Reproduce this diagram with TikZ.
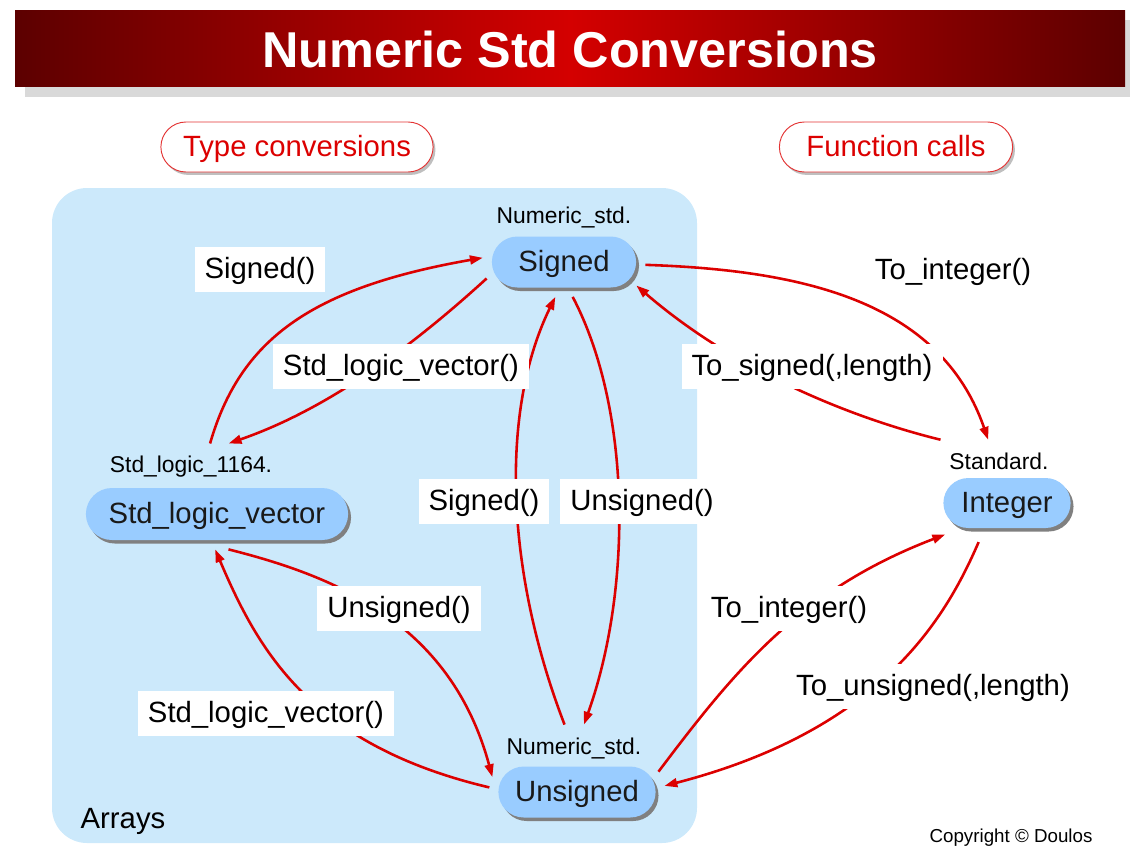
\documentclass[tikz,border=0pt]{standalone}
\usepackage{fontspec}
\setmainfont{Liberation Sans}
\usepackage{tikz}
\usetikzlibrary{shapes.misc, arrows.meta, shadows}
\definecolor{convred}{RGB}{220,0,0}
\definecolor{pillblue}{RGB}{153,204,255}
\definecolor{areablue}{RGB}{204,233,251}
\definecolor{titledark}{RGB}{92,0,0}
\definecolor{titlered}{RGB}{212,0,0}

\begin{document}
\begin{tikzpicture}[x=0.03cm, y=-0.03cm,
    pill/.style={rounded rectangle, fill=pillblue, minimum height=1.53cm, outer sep=8pt,
      font=\fontsize{25}{30}\selectfont, text=black!90, text height=18pt, text depth=2pt,
      drop shadow={shadow xshift=2.5pt, shadow yshift=-3pt, fill=black!50, opacity=1}},
    lib/.style={inner sep=1pt, outer sep=10pt, font=\fontsize{19.5}{23}\selectfont},
    lbl/.style={fill=white, inner xsep=0.3cm, inner ysep=0pt, minimum height=1.35cm,
      text height=18pt, text depth=2pt, font=\fontsize{25}{30}\selectfont},
    group/.style={rounded rectangle, draw=convred!80, line width=0.8pt, fill=white,
      text=convred, minimum height=1.5cm, text height=18pt, text depth=2pt,
      font=\fontsize{25}{30}\selectfont,
      drop shadow={shadow xshift=2pt, shadow yshift=-2.5pt, fill=black!25, opacity=1}},
    conv/.style={draw=convred, line width=2.2pt, -{Triangle[length=11pt, width=7.5pt]}}]
  \useasboundingbox (0,0) rectangle (1130,857);
  \fill[black!15] (25,20) rectangle (1130,97);
  \shade[left color=titledark, right color=titledark, middle color=titlered] (15,10) rectangle (1125,86);
  \node[text=white, font=\bfseries\fontsize{43}{50}\selectfont] (title) at (570,49) {Numeric Std Conversions};

  \node[group, minimum width=8.4cm] (typeconv) at (297,147) {Type conversions};
  \node[group, minimum width=7.23cm] (funcalls) at (896,147) {Function calls};

  \fill[areablue, rounded corners=1.05cm] (52,188) rectangle (697,843);
  \node[font=\fontsize{25}{30}\selectfont] (arrays) at (123,821) {Arrays};

  \node[pill, minimum width=4.56cm] (signed) at (564,262) {Signed};
  \node[lib] (signedlib) at (564,217) {Numeric\_std.};
  \node[pill, minimum width=8.1cm, minimum height=1.56cm] (slv) at (217,514) {Std\_logic\_vector};
  \node[lib] (slvlib) at (191,467) {Std\_logic\_1164.};
  \node[pill, minimum width=4.05cm, minimum height=1.5cm, outer sep=12pt] (int) at (1007,503) {Integer};
  \node[lib] (intlib) at (999,461) {Standard.};
  \node[pill, minimum width=4.95cm] (uns) at (577,792) {Unsigned};
  \node[lib] (unslib) at (574,748) {Numeric\_std.};

  \draw[conv] (slvlib.51) .. controls (240,340) and (310,288) .. (signed.177);
  \draw[conv] (signed.192) .. controls (430,330) and (340,405) .. (slvlib.32);
  \draw[conv] (unslib.112) .. controls (505,570) and (500,410) .. (signed.256);
  \draw[conv] (signed.284) .. controls (632,410) and (632,590) .. (unslib.67);
  \draw[conv] (slv.288) .. controls (330,575) and (450,620) .. (uns.170);
  \draw[conv] (uns.177) .. controls (310,745) and (258,650) .. (slv.267);
  \draw[conv] (signed.358) .. controls (800,270) and (940,300) .. (intlib.117);
  \draw[conv] (intlib.160) .. controls (860,420) and (740,375) .. (signed.342);
  \draw[conv] (uns.14) .. controls (735,670) and (800,590) .. (int.207);
  \draw[conv] (int.234) .. controls (945,620) and (880,730) .. (uns.4);

  \node[lbl] (l1) at (260,269) {Signed()};
  \node[lbl] (l2) at (401,366) {Std\_logic\_vector()};
  \node[lbl] (l3) at (484,501) {Signed()};
  \node[lbl] (l4) at (642,501) {Unsigned()};
  \node[lbl] (l5) at (399,608) {Unsigned()};
  \node[lbl] (l6) at (266,713) {Std\_logic\_vector()};
  \node[lbl] (l7) at (953,270) {To\_integer()};
  \node[lbl] (l8) at (812,366) {To\_signed(,length)};
  \node[lbl] (l9) at (789,608) {To\_integer()};
  \node[lbl] (l10) at (933,686) {To\_unsigned(,length)};

  \node[font=\fontsize{16}{19}\selectfont] (copy) at (1011,838) {Copyright © Doulos};
\end{tikzpicture}
\end{document}
